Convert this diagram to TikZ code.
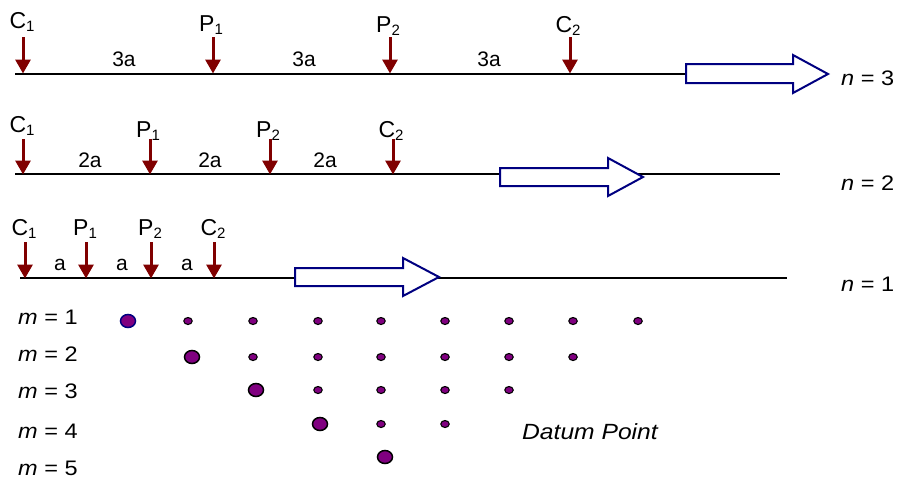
\documentclass[tikz,border=0pt]{standalone}
\usepackage{fontspec}
\setmainfont{Liberation Sans}
\newfontfamily\widefont[FakeStretch=1.12]{Liberation Sans}
\usetikzlibrary{arrows.meta,shapes.geometric}
\definecolor{loadred}{RGB}{128,0,0}
\definecolor{navyblue}{RGB}{0,0,128}
\definecolor{dotpurple}{RGB}{128,0,128}
\newcommand{\lab}[2]{#1\raisebox{-3pt}{\fontsize{15}{15}\selectfont #2}}
\tikzset{
  beam/.style={line width=2pt, black},
  load/.style={line width=3pt, loadred, -{Triangle[width=15pt,length=14pt]}, shorten >=-0.5pt},
  plabel/.style={anchor=base, inner sep=0pt, font=\fontsize{23}{25}\selectfont},
  dlabel/.style={anchor=base, inner sep=0pt, font=\fontsize{21}{23}\selectfont},
  rlabel/.style={anchor=base west, inner sep=0pt, font=\widefont\fontsize{21}{23}\selectfont},
  blockarrow/.style={draw=navyblue, fill=white, line width=2pt, line join=miter},
  smalldot/.style={ellipse, draw=black, fill=dotpurple, line width=1.1pt, minimum width=8.5pt, minimum height=7pt, inner sep=0pt},
  bigdot/.style={ellipse, draw=black, fill=dotpurple, line width=1.5pt, minimum width=15pt, minimum height=13pt, inner sep=0pt},
}
\begin{document}
\begin{tikzpicture}[x=1pt,y=-1pt]
\useasboundingbox (0,0) rectangle (899,480);
% ---------- n = 3 ----------
\coordinate (b3s) at (15,73.5);
\coordinate (b3e) at (686,73.5);
\draw[beam] (b3s) -- (b3e);
\draw[blockarrow] (686,64) -- (793,64) -- (793,55) -- (828,74) -- (793,93) -- (793,83) -- (686,83) -- cycle;
\foreach \nm/\x in {c31/23, p31/213, p32/390, c32/570}{
  \coordinate (\nm t) at (\x,37);
  \coordinate (\nm b) at (\x,73);
  \draw[load] (\nm t) -- (\nm b);
}
\node[plabel] (lc31) at (22,28) {\lab{C}{1}};
\node[plabel] (lp31) at (211,31) {\lab{P}{1}};
\node[plabel] (lp32) at (388,32) {\lab{P}{2}};
\node[plabel] (lc32) at (568,32) {\lab{C}{2}};
\node[dlabel] (d31) at (124,66) {3a};
\node[dlabel] (d32) at (304,66) {3a};
\node[dlabel] (d33) at (489,66) {3a};
\node[rlabel] (n3) at (841,85) {\textit{n} = 3};
% ---------- n = 2 ----------
\coordinate (b2s) at (15,174);
\coordinate (b2e) at (780,174);
\draw[beam] (b2s) -- (b2e);
\draw[blockarrow] (500,168) -- (608,168) -- (608,158) -- (643,177) -- (608,196) -- (608,186) -- (500,186) -- cycle;
\foreach \nm/\x in {c21/23, p21/150, p22/270, c22/393}{
  \coordinate (\nm t) at (\x,139);
  \coordinate (\nm b) at (\x,174);
  \draw[load] (\nm t) -- (\nm b);
}
\node[plabel] (lc21) at (22,132) {\lab{C}{1}};
\node[plabel] (lp21) at (148,137) {\lab{P}{1}};
\node[plabel] (lp22) at (268,137) {\lab{P}{2}};
\node[plabel] (lc22) at (391,137) {\lab{C}{2}};
\node[dlabel] (d21) at (90,167) {2a};
\node[dlabel] (d22) at (210,167) {2a};
\node[dlabel] (d23) at (325,167) {2a};
\node[rlabel] (n2) at (841,190) {\textit{n} = 2};
% ---------- n = 1 ----------
\coordinate (b1s) at (20,278);
\coordinate (b1e) at (787,278);
\draw[beam] (b1s) -- (b1e);
\draw[blockarrow] (295,268) -- (403,268) -- (403,258) -- (439,277) -- (403,296) -- (403,286) -- (295,286) -- cycle;
\foreach \nm/\x in {c11/25, p11/86, p12/151, c12/214}{
  \coordinate (\nm t) at (\x,242);
  \coordinate (\nm b) at (\x,278);
  \draw[load] (\nm t) -- (\nm b);
}
\node[plabel] (lc11) at (24,235) {\lab{C}{1}};
\node[plabel] (lp11) at (85,235) {\lab{P}{1}};
\node[plabel] (lp12) at (150,235) {\lab{P}{2}};
\node[plabel] (lc12) at (213,235) {\lab{C}{2}};
\node[dlabel] (d11) at (60,270) {a};
\node[dlabel] (d12) at (122,270) {a};
\node[dlabel] (d13) at (187,270) {a};
\node[rlabel] (n1) at (841,291) {\textit{n} = 1};
% ---------- m labels ----------
\node[rlabel] (m1) at (18,324) {\textit{m} = 1};
\node[rlabel] (m2) at (18,361) {\textit{m} = 2};
\node[rlabel] (m3) at (18,398) {\textit{m} = 3};
\node[rlabel] (m4) at (18,438) {\textit{m} = 4};
\node[rlabel] (m5) at (18,475) {\textit{m} = 5};
% ---------- dots ----------
\node[bigdot, draw=navyblue] (g11) at (128,321) {};
\foreach \x [count=\i from 2] in {188,253,318,381,445,509,573,638}
  \node[smalldot] (g1\i) at (\x,321) {};
\node[bigdot] (g22) at (192,357) {};
\foreach \x [count=\i from 3] in {253,318,381,445,509,573}
  \node[smalldot] (g2\i) at (\x,357) {};
\node[bigdot] (g33) at (256,390) {};
\foreach \x [count=\i from 4] in {318,381,445,509}
  \node[smalldot] (g3\i) at (\x,390) {};
\node[bigdot] (g44) at (320,424) {};
\foreach \x [count=\i from 5] in {381,445}
  \node[smalldot] (g4\i) at (\x,424) {};
\node[bigdot] (g55) at (385,457) {};
\node[rlabel] (datum) at (522,439) {\fontsize{22}{24}\selectfont\textit{Datum Point}};
\end{tikzpicture}
\end{document}
